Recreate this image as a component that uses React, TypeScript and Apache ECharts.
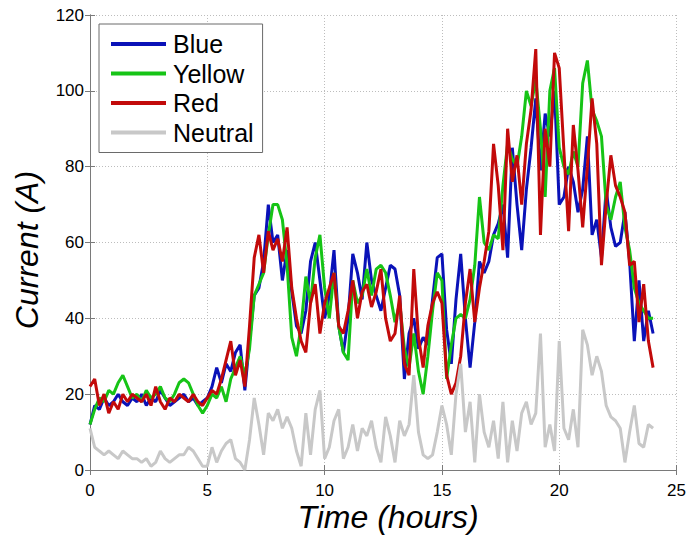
import React, { useEffect, useRef } from "react";
import * as echarts from "echarts";

const seriesNames = ["Blue", "Yellow", "Red", "Neutral"];
const seriesColors = ["#0a12b8", "#16c416", "#c20a0a", "#c8c8c8"];

// sample times (hours), every 0.2 h from 0 to 24
const times: number[] = Array.from({ length: 121 }, (_, i) => Math.round(i * 2) / 10);

const blue = [
  12, 17, 16, 19, 17, 18, 20, 18, 17, 19,
  18, 20, 17, 19, 18, 21, 19, 17, 18, 19,
  20, 18, 19, 17, 18, 19, 22, 27, 23, 28,
  26, 31, 33, 21, 34, 46, 48, 55, 70, 60,
  62, 50, 58, 47, 38, 36, 42, 55, 60, 50,
  40, 46, 58, 38, 31, 40, 57, 52, 45, 60,
  50, 46, 42, 48, 54, 53, 46, 24, 36, 40,
  32, 35, 33, 45, 56, 57, 37, 28, 45, 57,
  40, 27, 39, 55, 52, 55, 62, 65, 70, 56,
  85, 70, 58, 74, 85, 98, 79, 94, 88, 100,
  70, 72, 80, 76, 68, 74, 88, 62, 66, 56,
  74, 64, 59, 60, 68, 55, 34, 50, 34, 42,
  36,
];

const yellow = [
  12, 16, 19, 18, 21, 20, 23, 25, 22, 19,
  20, 18, 21, 19, 20, 22, 19, 18, 20, 23,
  24, 23, 20, 17, 15, 17, 20, 19, 22, 18,
  24, 27, 30, 25, 32, 46, 49, 52, 62, 70,
  70, 66, 54, 35, 30, 38, 51, 44, 56, 62,
  48, 40, 52, 38, 31, 29, 50, 44, 46, 53,
  46, 53, 54, 52, 46, 39, 44, 32, 27, 36,
  26, 20, 30, 42, 52, 50, 24, 33, 40, 41,
  40, 45, 54, 72, 60, 58, 62, 61, 75, 86,
  82, 80, 88, 100, 96, 103, 90, 72, 100, 106,
  85, 80, 78, 84, 80, 102, 108, 95, 92, 88,
  70, 66, 72, 76, 64, 58, 48, 44, 42, 40,
  40,
];

const red = [
  22, 24, 17, 20, 15, 18, 16, 20, 18, 20,
  19, 18, 20, 17, 22, 18, 16, 19, 18, 20,
  19, 18, 20, 18, 17, 19, 21, 20, 24, 29,
  34, 25, 29, 22, 38, 56, 62, 52, 63, 58,
  61, 55, 64, 48, 40, 34, 31, 44, 49, 36,
  44, 48, 52, 38, 36, 42, 50, 40, 47, 49,
  43, 47, 53, 40, 34, 36, 46, 28, 25, 53,
  35, 27, 38, 44, 47, 44, 25, 20, 23, 30,
  44, 53, 39, 48, 55, 63, 86, 75, 58, 90,
  76, 83, 70, 86, 95, 111, 62, 90, 80, 110,
  106, 84, 63, 91, 79, 64, 80, 98, 86, 54,
  70, 83, 75, 72, 68, 54, 55, 39, 49, 34,
  27,
];

const neutral = [
  11, 6, 5, 4, 5, 4, 3, 5, 4, 3,
  3, 2, 3, 1, 2, 5, 3, 2, 3, 4,
  4, 6, 5, 3, 1, 1, 6, 2, 5, 7,
  8, 3, 2, 0, 8, 19, 12, 4, 15, 13,
  16, 11, 14, 11, 5, 1, 15, 4, 16, 21,
  3, 6, 13, 16, 3, 6, 12, 5, 11, 9,
  13, 6, 2, 14, 9, 2, 13, 9, 12, 25,
  10, 4, 3, 4, 10, 17, 12, 4, 20, 28,
  10, 18, 2, 20, 10, 6, 13, 3, 18, 2,
  13, 5, 15, 18, 12, 15, 36, 6, 12, 5,
  34, 11, 8, 16, 6, 37, 33, 25, 30, 26,
  17, 14, 13, 11, 2, 10, 17, 7, 6, 12,
  11,
];

const allValues = [blue, yellow, red, neutral];

const FONT = "'Liberation Sans', Arial, Helvetica, sans-serif";

export default function App() {
  const ref = useRef<HTMLDivElement>(null);

  useEffect(() => {
    if (!ref.current) return;
    const chart = echarts.init(ref.current, undefined, { renderer: "svg" });

    const axisLine = { show: true, lineStyle: { color: "#7a7a7a", width: 1 } };
    const axisTick = { show: true, inside: true, length: 5, lineStyle: { color: "#7a7a7a" } };

    chart.setOption({
      animation: false,
      backgroundColor: "#ffffff",
      grid: { left: 90, right: 12, top: 15, bottom: 67, containLabel: false },
      legend: {
        show: true,
        orient: "vertical",
        left: 99,
        top: 24,
        data: seriesNames,
        icon: "rect",
        itemWidth: 55,
        itemHeight: 4,
        itemGap: 3.5,
        padding: [7, 9, 7, 12],
        borderColor: "#6a6a6a",
        borderWidth: 1,
        backgroundColor: "#ffffff",
        textStyle: { fontSize: 25, lineHeight: 26, color: "#000", fontFamily: FONT, padding: [0, 0, 0, 2] },
      },
      xAxis: [
        {
          type: "value",
          min: 0,
          max: 25,
          interval: 5,
          axisLine,
          axisTick,
          axisLabel: { show: true, margin: 12, fontSize: 17, color: "#000", fontFamily: FONT },
          splitLine: { show: true, lineStyle: { type: [1, 2], color: "#bdbdbd", width: 1 } },
        },
        {
          type: "value",
          position: "top",
          min: 0,
          max: 25,
          interval: 5,
          axisLine,
          axisTick,
          axisLabel: { show: false },
          splitLine: { show: false },
        },
      ],
      yAxis: [
        {
          type: "value",
          min: 0,
          max: 120,
          interval: 20,
          axisLine,
          axisTick,
          axisLabel: { show: true, margin: 6, fontSize: 17, color: "#000", fontFamily: FONT },
          splitLine: { show: true, lineStyle: { type: [1, 2], color: "#bdbdbd", width: 1 } },
        },
        {
          type: "value",
          position: "right",
          min: 0,
          max: 120,
          interval: 20,
          axisLine,
          axisTick,
          axisLabel: { show: false },
          splitLine: { show: false },
        },
      ],
      series: seriesNames.map((name, k) => ({
        name,
        type: "line",
        xAxisIndex: 0,
        yAxisIndex: 0,
        showSymbol: false,
        symbol: "none",
        color: seriesColors[k],
        lineStyle: { color: seriesColors[k], width: 3 },
        data: times.map((t, i) => [t, allValues[k][i]]),
        z: 2,
      })),
      graphic: [
        {
          type: "text",
          x: 388,
          y: 517,
          style: {
            text: "Time (hours)",
            font: `italic 32px ${FONT}`,
            fill: "#000",
            textAlign: "center",
            textVerticalAlign: "middle",
          },
        },
        {
          type: "text",
          x: 27,
          y: 250,
          rotation: Math.PI / 2,
          style: {
            text: "Current (A)",
            font: `italic 32px ${FONT}`,
            fill: "#000",
            textAlign: "center",
            textVerticalAlign: "middle",
          },
        },
      ],
    });

    return () => chart.dispose();
  }, []);

  return (
    <div
      ref={ref}
      style={{ position: "fixed", left: 0, top: 0, width: 689, height: 537, background: "#fff" }}
    />
  );
}
